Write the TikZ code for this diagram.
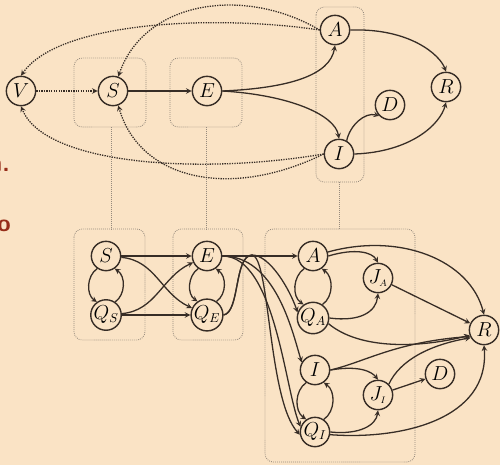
\documentclass[tikz,border=0pt]{standalone}
\definecolor{peach}{RGB}{250,227,197}
\definecolor{ink}{RGB}{55,45,38}
\definecolor{boxgray}{RGB}{150,138,125}
\definecolor{slidered}{RGB}{150,45,25}

\begin{document}
\begin{tikzpicture}[x=0.03cm,y=-0.03cm,
  state/.style={circle,draw=ink,line width=1.2pt,minimum size=0.88cm,inner sep=0pt,font=\fontsize{16}{18}\selectfont},
  flow/.style={-stealth,draw=ink,line width=1.1pt},
  back/.style={-stealth,draw=ink,line width=1.1pt,densely dotted},
  group/.style={draw=boxgray,densely dotted,rounded corners=0.25cm,line width=0.7pt},
  link/.style={draw=boxgray,densely dotted,line width=0.7pt}]
\useasboundingbox[fill=peach] (0,0) rectangle (500,465);

% compartment groups
\draw[group] (74,58) rectangle (146,127);
\draw[group] (170,58) rectangle (242,127);
\draw[group] (316,7) rectangle (364,182);
\draw[group] (74,229) rectangle (145,340);
\draw[group] (173,229) rectangle (243,340);
\draw[group] (265,229) rectangle (415,462);
\draw[link] (111,127) -- (111,229);
\draw[link] (206,127) -- (206,229);
\draw[link] (339,182) -- (339,229);

% slide text at the left edge
\node[text=slidered,font=\sffamily\bfseries\huge,anchor=base east,inner sep=0pt] (tn) at (10,171) {n.};
\node[text=slidered,font=\sffamily\bfseries\huge,anchor=base east,inner sep=0pt] (to) at (11,231) {o};

% upper graph
\node[state] (V) at (21,91) {$V$};
\node[state] (S) at (113,91) {$S$};
\node[state] (E) at (207,91) {$E$};
\node[state] (A) at (335,30) {$A$};
\node[state] (I) at (339,154) {$I$};
\node[state] (D) at (390,105) {$D$};
\node[state] (R) at (446,87) {$R$};

\draw[back] (V) -- (S);
\draw[flow] (S) -- (E);
\draw[flow] (E.east) .. controls (290,88) and (330,75) .. (A.south);
\draw[flow] (E.east) .. controls (290,95) and (335,115) .. (I.north);
\draw[flow] (A.east) .. controls (410,28) and (440,55) .. (R.north);
\draw[flow] (I.east) .. controls (410,152) and (440,125) .. (R.south);
\draw[flow] (I.60) .. controls (350,125) and (365,112) .. (D.south west);
\draw[back] (A.west) .. controls (245,-14) and (145,0) .. (S.70);
\draw[back] (A.west) .. controls (220,15) and (60,20) .. (V.north);
\draw[back] (I.west) .. controls (230,200) and (140,180) .. (S.-70);
\draw[back] (I.west) .. controls (200,175) and (45,165) .. (V.south);

% lower graph
\node[state] (S2) at (106,256) {$S$};
\node[state] (QS) at (106,315) {$Q_S$};
\node[state] (E2) at (207,256) {$E$};
\node[state] (QE) at (207,315) {$Q_E$};
\node[state] (A2) at (313,256) {$A$};
\node[state] (QA) at (313,318) {$Q_A$};
\node[state] (JA) at (378,278) {$J_{\scriptscriptstyle A}$};
\node[state] (I2) at (315,370) {$I$};
\node[state] (QI) at (315,432) {$Q_I$};
\node[state] (JI) at (378,395) {$J_{\scriptscriptstyle I}$};
\node[state] (D2) at (440,374) {$D$};
\node[state] (R2) at (484,330) {$R$};

\draw[flow] (S2) -- (E2);
\draw[flow] (QS) -- (QE);
\draw[flow] (S2.-5) to[out=-5,in=155] (QE.155);
\draw[flow] (QS.5) to[out=5,in=-155] (E2.-155);
\foreach \up/\dn in {S2/QS,E2/QE,A2/QA,I2/QI}{
  \draw[flow] (\up.235) to[out=215,in=145] (\dn.125);
  \draw[flow] (\dn.55) to[out=35,in=-35] (\up.-55);
}

\draw[flow] (E2) -- (A2);
\draw[flow] (E2.east) .. controls (275,256) and (292,330) .. (I2.150);
\draw[flow] (E2.east) .. controls (275,256) and (285,390) .. (QI.160);
\draw[flow] (QE.east) .. controls (240,312) and (234,256) .. (252,255)
  .. controls (270,255) and (290,290) .. (QA.160);
\draw[flow] (QE.east) .. controls (240,312) and (234,256) .. (252,255)
  .. controls (270,257) and (268,400) .. (QI.190);

\draw[flow] (A2.east) .. controls (355,248) and (372,252) .. (JA.north);
\draw[flow] (QA.east) .. controls (360,322) and (376,312) .. (JA.south);
\draw[flow] (A2.15) .. controls (400,232) and (470,260) .. (R2.north);
\draw[flow] (JA) -- (R2);
\draw[flow] (QA.-20) .. controls (360,350) and (420,348) .. (R2.200);
\draw[flow] (I2.east) .. controls (360,365) and (372,372) .. (JI.north);
\draw[flow] (QI.east) .. controls (360,435) and (376,425) .. (JI.south);
\draw[flow] (JI) -- (D2);
\draw[flow] (I2.east) .. controls (365,362) and (395,342) .. (R2.205);
\draw[flow] (JI.north east) .. controls (400,360) and (430,345) .. (R2.210);
\draw[flow] (QI.-10) .. controls (400,440) and (490,420) .. (R2.south);
\end{tikzpicture}
\end{document}
